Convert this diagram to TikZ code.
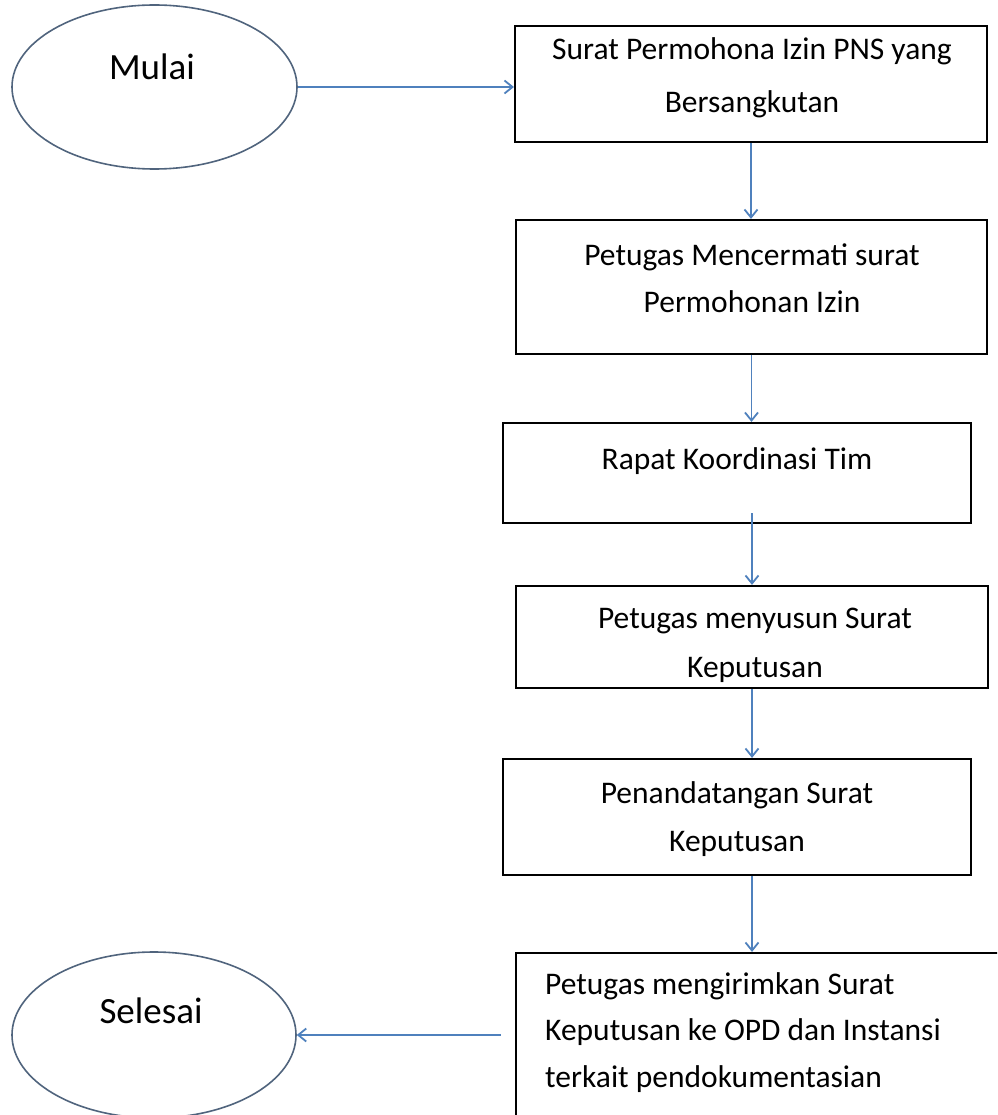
\documentclass[tikz,border=0pt]{standalone}
\usepackage{fontspec}
\setmainfont{Carlito}
\usetikzlibrary{shapes.geometric,arrows.meta}
\definecolor{arrowblue}{RGB}{79,129,189}
\definecolor{ellline}{RGB}{80,100,125}
\begin{document}
\begin{tikzpicture}[x=1pt,y=-1pt,
  stepbox/.style={draw=black,line width=2.2pt,rectangle,inner sep=0pt},
  oval/.style={draw=ellline,line width=1.6pt,ellipse,inner sep=0pt},
  lbl/.style={anchor=base,inner sep=0pt,font=\fontsize{31.5}{47}\selectfont,align=center},
  ovallbl/.style={anchor=base,inner sep=0pt,font=\fontsize{37}{44}\selectfont},
  arr/.style={draw=arrowblue,line width=1.8pt,-{Straight Barb[length=8pt,width=13pt]}}]
\useasboundingbox (0,0) rectangle (997,1115);
\clip (0,0) rectangle (997,1115);
\fill[white] (0,0) rectangle (997,1115);

\node[oval,minimum width=285pt,minimum height=164pt] (start) at (154.5,87) {};
\node[ovallbl] (startlbl) at (152,80) {Mulai};

\node[stepbox,minimum width=472pt,minimum height=116pt] (b1) at (751,84) {};
\node[lbl,font=\fontsize{31.5}{53}\selectfont] (t1) at (752,113) {Surat Permohona Izin PNS yang\\Bersangkutan};

\node[stepbox,minimum width=471pt,minimum height=134pt] (b2) at (751.5,287) {};
\node[lbl] (t2) at (752,312) {Petugas Mencermati surat\\Permohonan Izin};

\node[stepbox,minimum width=468pt,minimum height=100pt] (b3) at (737,473) {};
\node[lbl] (t3) at (737,469) {Rapat Koordinasi Tim};

\node[stepbox,minimum width=472pt,minimum height=102pt] (b4) at (752,637) {};
\node[lbl,font=\fontsize{31.5}{49}\selectfont] (t4) at (755,677) {Petugas menyusun Surat\\Keputusan};

\node[stepbox,minimum width=468pt,minimum height=116pt] (b5) at (737,817) {};
\node[lbl,font=\fontsize{31.5}{48}\selectfont] (t5) at (737,851) {Penandatangan Surat\\Keputusan};

\node[stepbox,minimum width=494pt,minimum height=172pt] (b6) at (763,1039) {};
\node[lbl,align=left,anchor=base west,font=\fontsize{31.5}{46.5}\selectfont] (t6) at (545,1087) {Petugas mengirimkan Surat\\Keputusan ke OPD dan Instansi\\terkait pendokumentasian};

\node[oval,minimum width=284pt,minimum height=166pt] (finish) at (154,1035) {};
\node[ovallbl] (finishlbl) at (151,1023) {Selesai};

\draw[arr] (start.east) -- (b1.west |- start.east);
\draw[arr] (b1.south) -- (b1.south |- b2.north);
\draw[arr] (b2.south) -- (b2.south |- b3.north);
\draw[arr] ([yshift=11pt]b4.north |- b3.south) -- (b4.north);
\draw[arr] (b4.south) -- (b4.south |- b5.north);
\draw[arr] (b4.south |- b5.south) -- (b4.south |- b6.north);
\draw[arr] (b6.west |- finish.east) ++(-14,0) -- (finish.east);
\end{tikzpicture}
\end{document}
